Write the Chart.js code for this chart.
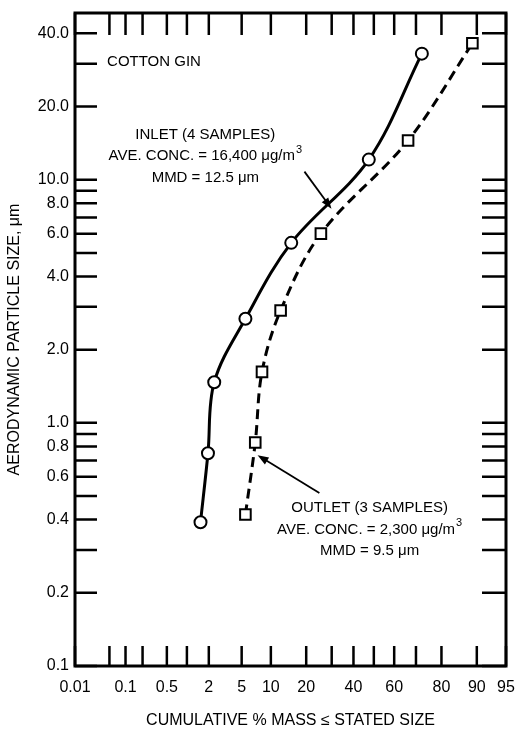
<!DOCTYPE html>
<html>
<head>
<meta charset="utf-8">
<script src="https://cdn.jsdelivr.net/npm/chart.js@4.4.1/dist/chart.umd.min.js"></script>
<style>
  html, body { margin: 0; padding: 0; background: #fff; }
  #wrap { width: 516px; height: 731px; }
</style>
</head>
<body>
<div id="wrap"><canvas id="dist"></canvas></div>
<script>
// axis ticks (cumulative %, probability scale) and particle size (log scale)
const X_TICKS = [0.01, 0.05, 0.1, 0.2, 0.5, 1, 2, 5, 10, 20, 30, 40, 50, 60, 70, 80, 90, 95];
const X_LABELS = [0.01, 0.1, 0.5, 2, 5, 10, 20, 40, 60, 80, 90, 95];
const Y_TICKS = [0.1, 0.2, 0.3, 0.4, 0.5, 0.6, 0.7, 0.8, 0.9, 1, 2, 3, 4, 5, 6, 7, 8, 9, 10, 20, 30, 40];
const Y_LABELS = [0.1, 0.2, 0.4, 0.6, 0.8, 1, 2, 4, 6, 8, 10, 20, 40];

// inlet: 4 samples
const INLET_PCT  = [1.55, 1.95, 2.35, 5.5, 15.2, 47.5, 72.5];
const INLET_SIZE = [0.39, 0.75, 1.47, 2.68, 5.5, 12.1, 33.0];
// outlet: 3 samples
const OUTLET_PCT  = [5.5, 7.0, 8.2, 12.3, 25.5, 66.5, 89.0];
const OUTLET_SIZE = [0.42, 0.83, 1.62, 2.9, 6.0, 14.5, 36.4];

// notes, placed in data units (pct, size)
const TITLE_NOTE = 'COTTON GIN';
const TITLE_AT = [0.045, 30.4];
const INLET_NOTE = ['INLET (4 SAMPLES)', 'AVE. CONC. = 16,400 \u03bcg/m^3', 'MMD = 12.5 \u03bcm'];
const INLET_NOTE_AT = [1.8, 15.3];
const OUTLET_NOTE = ['OUTLET (3 SAMPLES)', 'AVE. CONC. = 2,300 \u03bcg/m^3', 'MMD = 9.5 \u03bcm'];
const OUTLET_NOTE_AT = [47.9, 0.447];
const INLET_ARROW = [[19.4, 10.8], [29.9, 7.6]];
const OUTLET_ARROW = [[24.9, 0.515], [7.4, 0.736]];

const FONT = "'Liberation Sans', Arial, sans-serif";

// inverse normal cdf (Acklam)
function probit(p) {
    const a = [-39.69683028665376, 220.9460984245205, -275.9285104469687, 138.3577518672690, -30.66479806614716, 2.506628277459239];
    const b = [-54.47609879822406, 161.5858368580409, -155.6989798598866, 66.80131188771972, -13.28068155288572];
    const c = [-0.007784894002430293, -0.3223964580411365, -2.400758277161838, -2.549732539343734, 4.374664141464968, 2.938163982698783];
    const d = [0.007784695709041462, 0.3224671290700398, 2.445134137142996, 3.754408661907416];
    const pl = 0.02425;
    let q, r;
    if (p < pl) {
        q = Math.sqrt(-2 * Math.log(p));
        return (((((c[0] * q + c[1]) * q + c[2]) * q + c[3]) * q + c[4]) * q + c[5]) /
            ((((d[0] * q + d[1]) * q + d[2]) * q + d[3]) * q + 1);
    }
    if (p > 1 - pl) {
        q = Math.sqrt(-2 * Math.log(1 - p));
        return -(((((c[0] * q + c[1]) * q + c[2]) * q + c[3]) * q + c[4]) * q + c[5]) /
            ((((d[0] * q + d[1]) * q + d[2]) * q + d[3]) * q + 1);
    }
    q = p - 0.5;
    r = q * q;
    return (((((a[0] * r + a[1]) * r + a[2]) * r + a[3]) * r + a[4]) * r + a[5]) * q /
        (((((b[0] * r + b[1]) * r + b[2]) * r + b[3]) * r + b[4]) * r + 1);
}

function normCdf(z) {
    const t = 1 / (1 + 0.3275911 * Math.abs(z) / Math.SQRT2);
    const y = 1 - (((((1.061405429 * t - 1.453152027) * t) + 1.421413741) * t - 0.284496736) * t + 0.254829592) * t * Math.exp(-z * z / 2);
    return z >= 0 ? 0.5 * (1 + y) : 0.5 * (1 - y);
}

class ProbabilityScale extends Chart.Scale {
    determineDataLimits() {
        this.min = this.options.min;
        this.max = this.options.max;
    }
    buildTicks() {
        return X_TICKS.map(v => ({ value: v }));
    }
    configure() {
        super.configure();
        this._z0 = probit(this.min / 100);
        this._z1 = probit(this.max / 100);
    }
    getPixelForValue(value) {
        if (value === null || value === undefined || isNaN(value)) {
            return NaN;
        }
        return this.getPixelForDecimal((probit(value / 100) - this._z0) / (this._z1 - this._z0));
    }
    getValueForPixel(pixel) {
        const dec = this.getDecimalForPixel(pixel);
        return 100 * normCdf(this._z0 + dec * (this._z1 - this._z0));
    }
    getLabelForValue(value) {
        return String(value);
    }
}
ProbabilityScale.id = 'probability';
ProbabilityScale.defaults = {};
Chart.register(ProbabilityScale);

function toPoints(xs, ys) {
    return xs.map((x, i) => ({ x: x, y: ys[i] }));
}

function drawArrow(ctx, x0, y0, x1, y1) {
    const ang = Math.atan2(y1 - y0, x1 - x0);
    const len = 11, half = 4;
    ctx.beginPath();
    ctx.moveTo(x0, y0);
    ctx.lineTo(x1 - Math.cos(ang) * len * 0.8, y1 - Math.sin(ang) * len * 0.8);
    ctx.stroke();
    ctx.beginPath();
    ctx.moveTo(x1, y1);
    ctx.lineTo(x1 - Math.cos(ang) * len - Math.sin(ang) * half, y1 - Math.sin(ang) * len + Math.cos(ang) * half);
    ctx.lineTo(x1 - Math.cos(ang) * len + Math.sin(ang) * half, y1 - Math.sin(ang) * len - Math.cos(ang) * half);
    ctx.closePath();
    ctx.fill();
}

function drawNote(ctx, lines, cx, cy) {
    lines.forEach((line, i) => {
        const parts = line.split('^');
        ctx.font = '15px ' + FONT;
        const w0 = ctx.measureText(parts[0]).width;
        let w1 = 0;
        if (parts[1]) {
            ctx.font = '11px ' + FONT;
            w1 = ctx.measureText(parts[1]).width + 1;
        }
        const left = cx - (w0 + w1) / 2;
        const y = cy + i * 21.5;
        ctx.font = '15px ' + FONT;
        ctx.textAlign = 'left';
        ctx.textBaseline = 'middle';
        ctx.fillText(parts[0], left, y);
        if (parts[1]) {
            ctx.font = '11px ' + FONT;
            ctx.fillText(parts[1], left + w0 + 1, y - 6);
        }
    });
}

const framePlugin = {
    id: 'frame',
    afterDatasetsDraw(chart) {
        const { ctx, chartArea: a, scales: { x, y } } = chart;
        ctx.save();
        ctx.strokeStyle = '#000';
        ctx.fillStyle = '#000';
        ctx.lineWidth = 2.5;
        ctx.beginPath();
        x.ticks.forEach(t => {
            const px = x.getPixelForValue(t.value);
            ctx.moveTo(px, a.bottom);
            ctx.lineTo(px, a.bottom - 20);
            ctx.moveTo(px, a.top);
            ctx.lineTo(px, a.top + 22);
        });
        y.ticks.forEach(t => {
            const py = y.getPixelForValue(t.value);
            ctx.moveTo(a.left, py);
            ctx.lineTo(a.left + 22, py);
            ctx.moveTo(a.right, py);
            ctx.lineTo(a.right - 24, py);
        });
        ctx.stroke();
        ctx.lineWidth = 3;
        ctx.strokeRect(a.left, a.top, a.right - a.left, a.bottom - a.top);

        ctx.font = '15px ' + FONT;
        ctx.textAlign = 'left';
        ctx.textBaseline = 'middle';
        ctx.fillText(TITLE_NOTE, x.getPixelForValue(TITLE_AT[0]), y.getPixelForValue(TITLE_AT[1]));
        drawNote(ctx, INLET_NOTE, x.getPixelForValue(INLET_NOTE_AT[0]), y.getPixelForValue(INLET_NOTE_AT[1]));
        drawNote(ctx, OUTLET_NOTE, x.getPixelForValue(OUTLET_NOTE_AT[0]), y.getPixelForValue(OUTLET_NOTE_AT[1]));

        ctx.lineWidth = 1.8;
        [INLET_ARROW, OUTLET_ARROW].forEach(ar => {
            drawArrow(ctx,
                x.getPixelForValue(ar[0][0]), y.getPixelForValue(ar[0][1]),
                x.getPixelForValue(ar[1][0]), y.getPixelForValue(ar[1][1]));
        });
        ctx.restore();
    }
};

window.onload = function () {
    var ctx = document.getElementById("dist").getContext("2d");
    new Chart(ctx, {
        type: "line",
        data: {
            datasets: [{
                label: "Inlet",
                data: toPoints(INLET_PCT, INLET_SIZE),
                borderColor: "#000",
                borderWidth: 3,
                fill: false,
                tension: 0.35,
                pointStyle: "circle",
                pointRadius: 6,
                pointBorderWidth: 2,
                pointBackgroundColor: "#fff",
                pointBorderColor: "#000",
            },
            {
                label: "Outlet",
                data: toPoints(OUTLET_PCT, OUTLET_SIZE),
                borderColor: "#000",
                borderWidth: 3,
                borderDash: [10, 6],
                fill: false,
                tension: 0.35,
                pointStyle: "rect",
                pointRadius: 7.5,
                pointBorderWidth: 2,
                pointBackgroundColor: "#fff",
                pointBorderColor: "#000",
            }],
        },
        options: {
            responsive: true,
            maintainAspectRatio: false,
            animation: false,
            events: [],
            layout: {
                padding: { top: 13, right: 10, left: 0, bottom: 0 }
            },
            scales: {
                x: {
                    type: "probability",
                    min: 0.01,
                    max: 95,
                    afterFit: s => { s.height = 65; },
                    grid: { display: false, drawTicks: true, tickLength: 12 },
                    border: { display: false },
                    ticks: {
                        autoSkip: false,
                        maxRotation: 0,
                        padding: 0,
                        color: "#000",
                        font: { family: FONT, size: 16 },
                        callback: v => X_LABELS.includes(v) ? String(v) : ""
                    },
                    title: {
                        display: true,
                        text: "CUMULATIVE % MASS \u2264 STATED SIZE",
                        color: "#000",
                        font: { family: FONT, size: 16 },
                        padding: { top: 0, bottom: 1 }
                    }
                },
                y: {
                    type: "logarithmic",
                    min: 0.1,
                    max: 48.5,
                    afterFit: s => { s.width = 75; },
                    afterBuildTicks: s => { s.ticks = Y_TICKS.map(v => ({ value: v })); },
                    grid: { display: false, drawTicks: true, tickLength: 6 },
                    border: { display: false },
                    ticks: {
                        autoSkip: false,
                        padding: 0,
                        color: "#000",
                        font: { family: FONT, size: 16 },
                        callback: v => Y_LABELS.includes(v) ? v.toFixed(1) : ""
                    },
                    title: {
                        display: true,
                        text: "AERODYNAMIC PARTICLE SIZE, \u03bcm",
                        color: "#000",
                        font: { family: FONT, size: 16 },
                        padding: { top: 5, bottom: 0 }
                    }
                }
            },
            plugins: {
                legend: { display: false },
                tooltip: { enabled: false }
            }
        },
        plugins: [framePlugin]
    });
};
</script>
</body>
</html>
